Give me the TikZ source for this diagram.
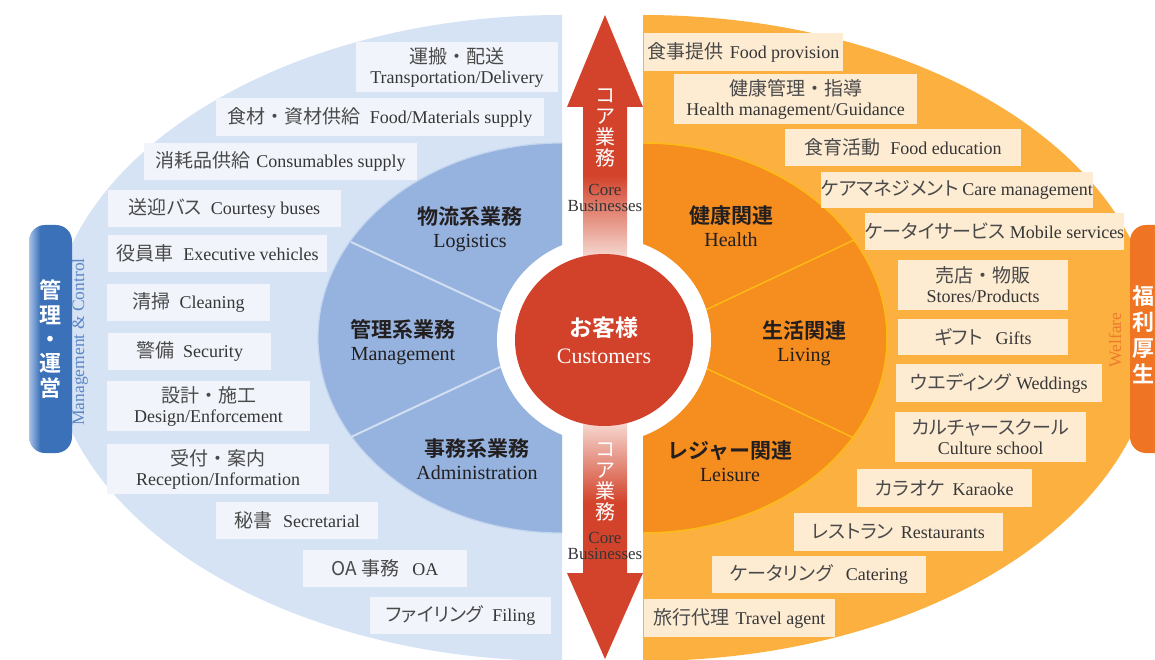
\documentclass[tikz,border=0pt]{standalone}
\usepackage{fontspec}
\setmainfont{Liberation Serif}
\newfontfamily\jp[BoldFont={Noto Sans CJK JP Bold}]{Noto Sans CJK JP}
\newfontfamily\jpp[RawFeature=+palt]{Noto Sans CJK JP}
\usetikzlibrary{shapes.geometric}
\definecolor{jpgray}{HTML}{4A4A4A}
\newcommand\jtxt[1]{{\jpp\fontsize{19}{20}\selectfont\color{jpgray}#1}}
\newcommand\jdot{{\jp ・}}
\definecolor{outerblue}{HTML}{D5E3F5}
\definecolor{innerblue}{HTML}{95B3DE}
\definecolor{inneredgeblue}{HTML}{C3D4EE}
\definecolor{boxblue}{HTML}{F1F5FB}
\definecolor{outerorange}{HTML}{FBB040}
\definecolor{innerorange}{HTML}{F58D1F}
\definecolor{boxorange}{HTML}{FDEBD2}
\definecolor{custred}{HTML}{D2422A}
\definecolor{arrowred}{HTML}{D3432B}
\definecolor{arrowpale}{HTML}{F6DAD2}
\definecolor{txtgray}{HTML}{363636}
\definecolor{labeldark}{HTML}{231F20}
\definecolor{tabblue}{HTML}{3B71B8}
\definecolor{tabbluelight}{HTML}{A9C2E8}
\definecolor{taborange}{HTML}{EF7424}
\definecolor{taborangelight}{HTML}{F59A4C}
\definecolor{mcblue}{HTML}{5B86C6}
\definecolor{welforange}{HTML}{EE7A2B}
\definecolor{sepblue}{HTML}{D2DEF1}
\definecolor{sepyellow}{HTML}{FDBB16}
\pgfdeclareverticalshading{upfade}{100bp}{color(0bp)=(arrowpale); color(25bp)=(arrowpale); color(42bp)=(arrowred); color(100bp)=(arrowred)}
\pgfdeclareverticalshading{downfade}{100bp}{color(0bp)=(arrowred); color(58bp)=(arrowred); color(75bp)=(arrowpale); color(100bp)=(arrowpale)}
\pgfdeclarehorizontalshading{tabblueshade}{100bp}{color(0bp)=(tabbluelight); color(25bp)=(tabbluelight); color(38bp)=(tabblue); color(100bp)=(tabblue)}
\pgfdeclarehorizontalshading{taborangeshade}{100bp}{color(0bp)=(taborange); color(50bp)=(taborange); color(75bp)=(taborangelight); color(100bp)=(taborangelight)}
\tikzset{
  lbox/.style={fill=boxblue, inner sep=0pt, text=txtgray, align=center, font=\fontsize{18}{20}\selectfont},
  rbox/.style={fill=boxorange, inner sep=0pt, text=txtgray, align=center, font=\fontsize{18}{20}\selectfont},
  inlabel/.style={text=labeldark, align=center, inner sep=0pt, font=\fontsize{20}{23}\selectfont},
}
\newcommand\jb[1]{{\jp\bfseries\fontsize{21}{23}\selectfont #1}}
\begin{document}
\begin{tikzpicture}[x=1pt,y=-1pt]
\useasboundingbox (0,0) rectangle (1155,660);
% left half
\begin{scope}
\clip (0,0) rectangle (562,662);
\fill[outerblue] (562,338) ellipse [x radius=512, y radius=323];
\fill[innerblue] (562,338) ellipse [x radius=244, y radius=195];
\draw[inneredgeblue, line width=1.2] (562,338) ellipse [x radius=244, y radius=195];
\draw[sepblue, line width=2] (351,242) -- (530,325);
\draw[sepblue, line width=2] (351,437) -- (530,353);
\end{scope}
% right half
\begin{scope}
\clip (643,0) rectangle (1160,662);
\fill[outerorange] (643,338) ellipse [x radius=512, y radius=323];
\fill[innerorange] (643,338) ellipse [x radius=244, y radius=195];
\draw[sepyellow, line width=1.5] (643,338) ellipse [x radius=244, y radius=195];
\draw[sepyellow, line width=1.5] (854,240) -- (680,322);
\draw[sepyellow, line width=1.5] (854,438) -- (680,356);
\end{scope}
% white ring
\fill[white] (604,340) ellipse [x radius=107, y radius=103];
% arrows
\shade[shading=upfade] (583,258) -- (583,107) -- (567,107) -- (605,15) -- (643,107) -- (627,107) -- (627,258) -- cycle;
\shade[shading=downfade] (583,422) -- (627,422) -- (627,573) -- (643,573) -- (605,659) -- (567,573) -- (583,573) -- cycle;
\node[text=white, align=center, inner sep=0pt, font=\jp\fontsize{20}{21}\selectfont] (upjp) at (605,128) {コ\\ア\\業\\務};
\node[text=txtgray, align=center, inner sep=0pt, font=\fontsize{17}{15.5}\selectfont] (upen) at (605,198) {Core\\Businesses};
\node[text=white, align=center, inner sep=0pt, font=\jp\fontsize{20}{21}\selectfont] (dnjp) at (605,482) {コ\\ア\\業\\務};
\node[text=txtgray, align=center, inner sep=0pt, font=\fontsize{17}{15.5}\selectfont] (dnen) at (605,546) {Core\\Businesses};
% customers
\node[ellipse, fill=custred, minimum width=178pt, minimum height=172pt, inner sep=0pt, text=white, align=center, font=\fontsize{22}{27}\selectfont] (cust) at (604,340) {{\jp\bfseries\fontsize{23}{27}\selectfont お客様}\\Customers};
% inner labels
\node[inlabel] (logi) at (470,229) {\jb{物流系業務}\\Logistics};
\node[inlabel] (mgmt) at (403,342) {\jb{管理系業務}\\Management};
\node[inlabel] (admin) at (477,459) {\jb{事務系業務}\\Administration};
\node[inlabel] (health) at (731,226) {\jb{健康関連}\\Health};
\node[inlabel] (living) at (804,343) {\jb{生活関連}\\Living};
\node[inlabel] (leisure) at (730,461) {\jb{レジャー関連}\\Leisure};
% left boxes
\node[lbox, minimum width=202pt, minimum height=50pt] (L1) at (457,67) {\jtxt{運搬\jdot 配送}\\Transportation/Delivery};
\node[lbox, minimum width=328pt, minimum height=38pt] (L2) at (380,117) {\jtxt{食材\jdot 資材供給}\hspace{9pt}Food/Materials supply};
\node[lbox, minimum width=273pt, minimum height=37pt] (L3) at (280.5,161.5) {\jtxt{消耗品供給}\hspace{6pt}Consumables supply};
\node[lbox, minimum width=233pt, minimum height=37pt] (L4) at (224.5,208.5) {\jtxt{送迎バス}\hspace{9pt}Courtesy buses};
\node[lbox, minimum width=219pt, minimum height=37pt] (L5) at (217.5,253.5) {\jtxt{役員車}\hspace{10pt}Executive vehicles};
\node[lbox, minimum width=163pt, minimum height=37pt] (L6) at (188.5,302.5) {\jtxt{清掃}\hspace{9pt}Cleaning};
\node[lbox, minimum width=163pt, minimum height=37pt] (L7) at (189.5,351.5) {\jtxt{警備}\hspace{9pt}Security};
\node[lbox, minimum width=203pt, minimum height=50pt] (L8) at (208.5,406) {\jtxt{設計\jdot 施工}\\Design/Enforcement};
\node[lbox, minimum width=222pt, minimum height=50pt] (L9) at (218,469) {\jtxt{受付\jdot 案内}\\Reception/Information};
\node[lbox, minimum width=162pt, minimum height=37pt] (L10) at (297,520.5) {\jtxt{秘書}\hspace{11pt}Secretarial};
\node[lbox, minimum width=164pt, minimum height=37pt] (L11) at (385,568.5) {\jtxt{OA 事務}\hspace{13pt}OA};
\node[lbox, minimum width=181pt, minimum height=37pt] (L12) at (460.5,615.5) {\jtxt{ファイリング}\hspace{9pt}Filing};
% right boxes
\node[rbox, minimum width=199pt, minimum height=38pt] (R1) at (743.5,52) {\jtxt{食事提供}\hspace{6pt}Food provision};
\node[rbox, minimum width=243pt, minimum height=50pt] (R2) at (795.5,99) {\jtxt{健康管理\jdot 指導}\\Health management/Guidance};
\node[rbox, minimum width=236pt, minimum height=37pt] (R3) at (903,147.5) {\jtxt{食育活動}\hspace{10pt}Food education};
\node[rbox, minimum width=270pt, minimum height=36pt] (R4) at (957,190) {\jtxt{ケアマネジメント}\hspace{4pt}Care management};
\node[rbox, minimum width=259pt, minimum height=37pt] (R5) at (994.5,231.5) {\jtxt{ケータイサービス}\hspace{4pt}Mobile services};
\node[rbox, minimum width=170pt, minimum height=50pt] (R6) at (983,285) {\jtxt{売店\jdot 物販}\\Stores/Products};
\node[rbox, minimum width=170pt, minimum height=36pt] (R7) at (983,337) {\jtxt{ギフト}\hspace{13pt}Gifts};
\node[rbox, minimum width=206pt, minimum height=38pt] (R8) at (999,383) {\jtxt{ウエディング}\hspace{5pt}Weddings};
\node[rbox, minimum width=191pt, minimum height=50pt] (R9) at (990.5,437) {\jtxt{カルチャースクール}\\Culture school};
\node[rbox, minimum width=175pt, minimum height=38pt] (R10) at (944.5,488) {\jtxt{カラオケ}\hspace{8pt}Karaoke};
\node[rbox, minimum width=209pt, minimum height=38pt] (R11) at (898.5,532) {\jtxt{レストラン}\hspace{7pt}Restaurants};
\node[rbox, minimum width=214pt, minimum height=37pt] (R12) at (819,574.5) {\jtxt{ケータリング}\hspace{13pt}Catering};
\node[rbox, minimum width=191pt, minimum height=38pt] (R13) at (739.5,618) {\jtxt{旅行代理}\hspace{6pt}Travel agent};
% tabs
\node[shading=tabblueshade, rounded corners=16pt, minimum width=43pt, minimum height=228pt, inner sep=0pt, text=white, align=center, font=\jp\bfseries\fontsize{22}{24.4}\selectfont] (tabL) at (50.5,339) {管\\理\\・\\運\\営};
\node[rotate=90, text=mcblue, inner sep=0pt, font=\fontsize{17.5}{20}\selectfont] (mc) at (80,342) {Management \& Control};
\node[shading=taborangeshade, rounded corners=16pt, minimum width=43pt, minimum height=228pt, inner sep=0pt] (tabR) at (1151.5,339) {};
\node[text=white, align=center, inner sep=0pt, font=\jp\bfseries\fontsize{22}{26}\selectfont] (tabRtxt) at (1143,335) {福\\利\\厚\\生};
\node[rotate=90, text=welforange, inner sep=0pt, font=\fontsize{17.5}{20}\selectfont] (welf) at (1115,340) {Welfare};
\end{tikzpicture}
\end{document}
